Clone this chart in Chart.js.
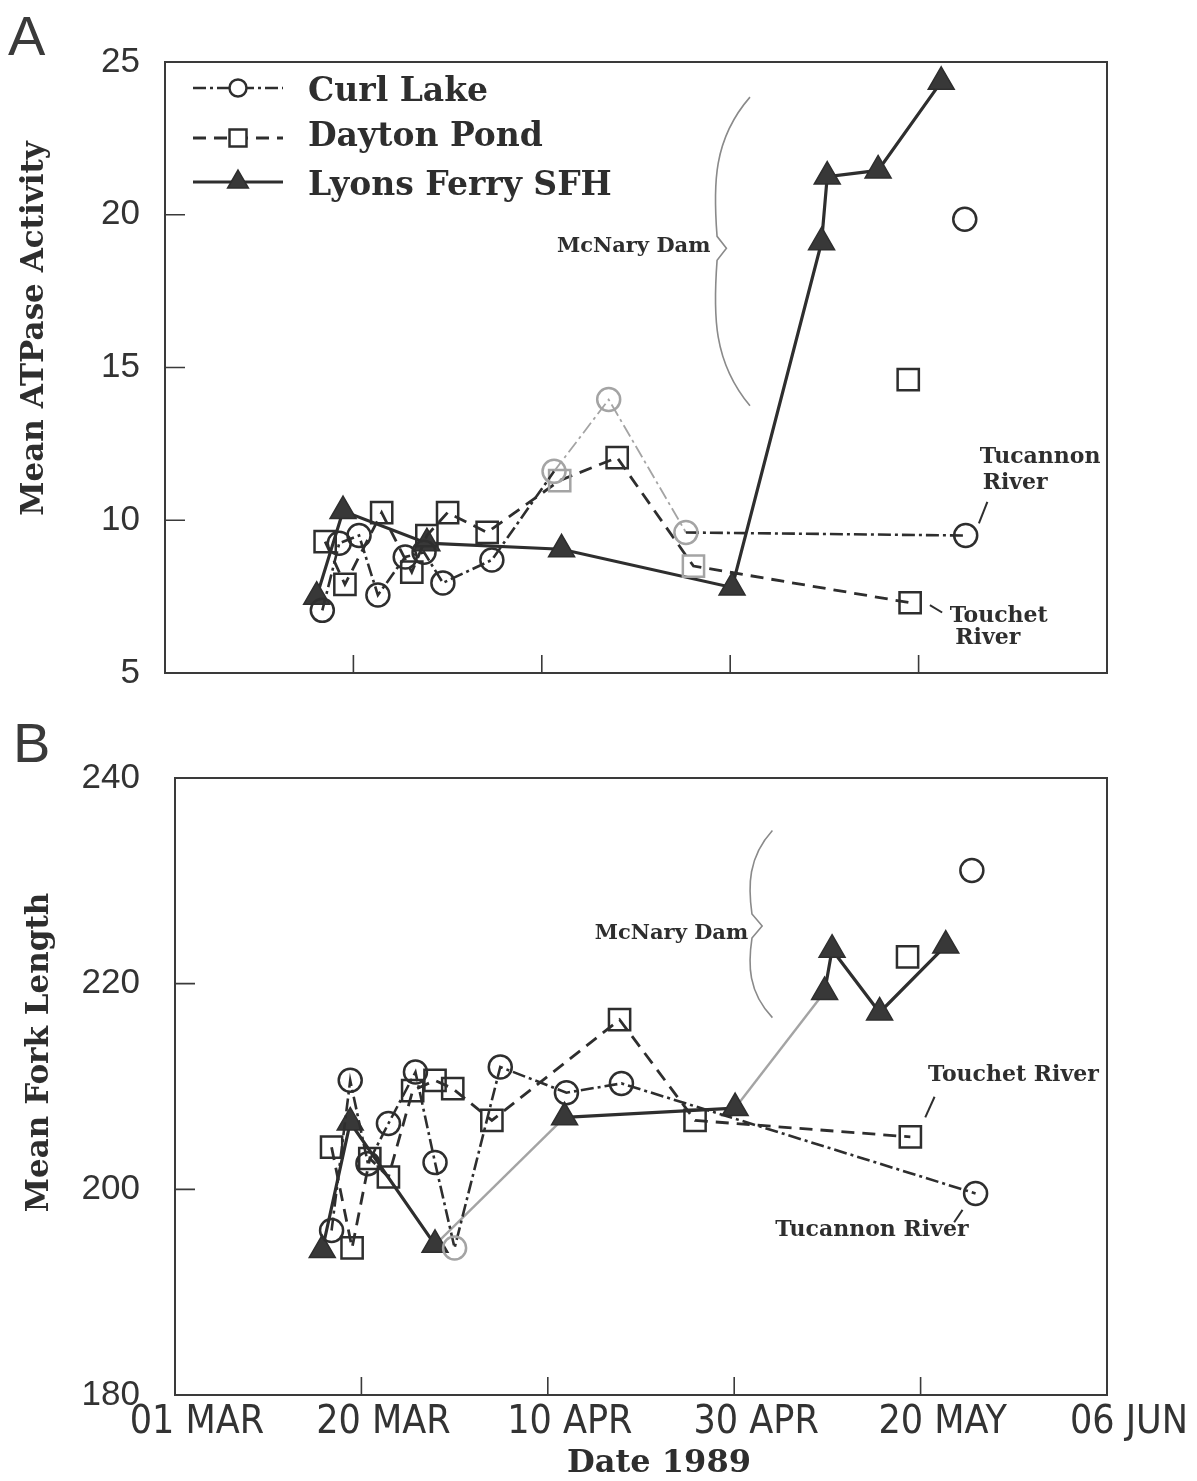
<!DOCTYPE html>
<html>
<head>
<meta charset="utf-8">
<title>ATPase activity and fork length, 1989</title>
<script src="https://cdn.jsdelivr.net/npm/chart.js@4.4.1/dist/chart.umd.min.js"></script>
<style>
  html, body { margin: 0; padding: 0; background: #fff; }
  #wrap { position: relative; width: 1197px; height: 1481px; overflow: hidden; background: #fff; }
  canvas { position: absolute; left: 0; }
  #panelA { top: 0; }
  #panelB { top: 720px; }
</style>
</head>
<body>
<div id="wrap">
  <canvas id="panelA" width="1197" height="720"></canvas>
  <canvas id="panelB" width="1197" height="761"></canvas>
</div>
<script>
// ---- x axis: day of year, 1989 ----
const dayTicks = [60, 80, 100, 120, 140, 160];
const dayTickLabels = ['01 MAR', '20 MAR', '10 APR', '30 APR', '20 MAY', '06 JUN'];
const atpaseTicks = [5, 10, 15, 20, 25];
const forkTicks = [180, 200, 220, 240];

// ---- Panel A: mean gill ATPase activity ----
const curlDaysA    = [76.7, 78.5, 80.6, 82.6, 85.5, 87.5, 89.5, 94.7, 101.3, 107.1, 115.3, 145.0];
const curlAtpaseA  = [7.05, 9.25, 9.5, 7.55, 8.8, 8.95, 7.95, 8.7, 11.6, 13.95, 9.6, 9.5];
const daytonDaysA   = [77.0, 79.1, 83.0, 86.2, 87.8, 90.0, 94.2, 101.9, 108.0, 116.1, 139.1];
const daytonAtpaseA = [9.3, 7.9, 10.25, 8.3, 9.5, 10.25, 9.6, 11.3, 12.05, 8.5, 7.3];
const lyonsDaysA   = [76.1, 78.9, 87.8, 102.1, 120.2, 129.7, 130.3, 135.7, 142.4];
const lyonsAtpaseA = [7.5, 10.3, 9.25, 9.05, 7.8, 19.1, 21.25, 21.45, 24.35];
// fish sampled at McNary Dam (plotted without connecting lines)
const curlDamDayA = [144.9],   curlDamAtpaseA = [19.85];
const daytonDamDayA = [138.9], daytonDamAtpaseA = [14.6];

// ---- Panel B: mean fork length ----
const curlDaysB   = [76.8, 78.8, 80.7, 82.9, 85.8, 87.9, 90.0, 94.9, 102.0, 107.9, 145.9];
const curlForkB   = [196.0, 210.6, 202.5, 206.4, 211.4, 202.6, 194.3, 211.9, 209.4, 210.3, 199.6];
const daytonDaysB = [76.8, 79.0, 80.9, 82.9, 85.5, 87.9, 89.8, 94.0, 107.7, 115.8, 138.9];
const daytonForkB = [204.1, 194.3, 203.0, 201.2, 209.6, 210.6, 209.8, 206.7, 216.5, 206.7, 205.1];
const lyonsDaysB  = [75.8, 78.8, 87.9, 101.8, 120.1, 129.7, 130.5, 135.6, 142.7];
const lyonsForkB  = [194.1, 206.5, 194.6, 207.0, 207.9, 219.2, 223.3, 217.2, 223.7];
const curlDamDayB = [145.5],   curlDamForkB = [231.0];
const daytonDamDayB = [138.6], daytonDamForkB = [222.6];

const seriesNames = ['Curl Lake', 'Dayton Pond', 'Lyons Ferry SFH'];

// ---- styling ----
const INK = '#2e2e2e';
const FADED = '#a4a4a4';
const SERIF = '"DejaVu Serif", "Liberation Serif", serif';
const SANS = '"Liberation Sans", Arial, sans-serif';
const NARROW = '"Liberation Sans Narrow", "DejaVu Sans Condensed", "Liberation Sans", sans-serif';

const STYLE = {
  curl:   { pointStyle: 'circle',   radius: 11.5, dash: [13, 4, 3, 4], lineWidth: 2.6, fill: 'rgba(0,0,0,0)', pointBorder: 2.5 },
  dayton: { pointStyle: 'rect',     radius: 15,   dash: [13, 8],       lineWidth: 2.8, fill: 'rgba(0,0,0,0)', pointBorder: 2.5 },
  lyons:  { pointStyle: 'triangle', radius: 15,   dash: [],            lineWidth: 3.2, fill: '#383838',       pointBorder: 1.5 }
};

function pairs(xs, ys) { return xs.map((x, i) => ({ x: x, y: ys[i] })); }

function makeSeries(label, xs, ys, st, connect, fadedSegs, fadedPts) {
  fadedSegs = fadedSegs || [];
  fadedPts = fadedPts || [];
  return {
    label: label,
    data: pairs(xs, ys),
    showLine: connect,
    borderColor: INK,
    borderWidth: st.lineWidth,
    borderDash: st.dash,
    tension: 0,
    pointStyle: st.pointStyle,
    pointRadius: st.radius,
    pointHoverRadius: st.radius,
    pointBorderWidth: st.pointBorder,
    pointBackgroundColor: xs.map((_, i) => (st.pointStyle === 'triangle' && fadedPts.includes(i)) ? '#7a7a7a' : st.fill),
    pointBorderColor: xs.map((_, i) => fadedPts.includes(i) ? FADED : INK),
    segment: {
      borderColor: c => fadedSegs.includes(c.p0DataIndex) ? FADED : INK,
      borderWidth: c => fadedSegs.includes(c.p0DataIndex) ? Math.max(1.8, st.lineWidth - 0.8) : st.lineWidth
    }
  };
}

// ---- plugins ----
function framePlugin(yTickValues, xTickValues) {
  return {
    id: 'frame',
    beforeDatasetsDraw(chart) {
      const { ctx, chartArea: a, scales } = chart;
      ctx.save();
      ctx.strokeStyle = '#3a3a3a';
      ctx.lineWidth = 2;
      ctx.setLineDash([]);
      ctx.strokeRect(a.left, a.top, a.right - a.left, a.bottom - a.top);
      ctx.lineWidth = 1.6;
      ctx.beginPath();
      yTickValues.forEach(v => {
        const y = scales.y.getPixelForValue(v);
        if (y > a.top + 2 && y < a.bottom - 2) { ctx.moveTo(a.left, y); ctx.lineTo(a.left + 20, y); }
      });
      xTickValues.forEach(v => {
        const x = scales.x.getPixelForValue(v);
        if (x > a.left + 2 && x < a.right - 2) { ctx.moveTo(x, a.bottom); ctx.lineTo(x, a.bottom - 18); }
      });
      ctx.stroke();
      ctx.restore();
    }
  };
}

function drawBrace(ctx, xe, xb, xc, yTop, yTip, yBot) {
  const up = yTip - yTop, dn = yBot - yTip;
  ctx.beginPath();
  ctx.moveTo(xe, yTop);
  ctx.bezierCurveTo(xb - 3, yTop + 0.28 * up, xb - 3, yTip - 0.42 * up, xb + 1, yTip - 12);
  ctx.quadraticCurveTo(xb + (xc - xb) * 0.7, yTip - 4, xc, yTip);
  ctx.quadraticCurveTo(xb + (xc - xb) * 0.7, yTip + 4, xb + 1, yTip + 12);
  ctx.bezierCurveTo(xb - 3, yTip + 0.42 * dn, xb - 3, yBot - 0.28 * dn, xe, yBot);
  ctx.stroke();
}

// notes are anchored in data units so they follow the scales
function notesPlugin(notes) {
  return {
    id: 'notes',
    afterDatasetsDraw(chart) {
      const { ctx, scales } = chart;
      const X = d => scales.x.getPixelForValue(d);
      const Y = v => scales.y.getPixelForValue(v);
      ctx.save();
      notes.forEach(n => {
        if (n.kind === 'text') {
          ctx.font = 'bold ' + (n.size || 22) + 'px ' + SERIF;
          ctx.fillStyle = INK;
          ctx.textAlign = n.align || 'left';
          ctx.textBaseline = 'middle';
          ctx.fillText(n.text, X(n.day), Y(n.val));
        } else if (n.kind === 'leader') {
          ctx.strokeStyle = INK;
          ctx.lineWidth = 2;
          ctx.setLineDash([]);
          ctx.beginPath();
          ctx.moveTo(X(n.from[0]), Y(n.from[1]));
          ctx.lineTo(X(n.to[0]), Y(n.to[1]));
          ctx.stroke();
        } else if (n.kind === 'brace') {
          ctx.strokeStyle = '#8a8a8a';
          ctx.lineWidth = 1.6;
          ctx.setLineDash([]);
          drawBrace(ctx, X(n.endDay), X(n.bodyDay), X(n.tipDay), Y(n.top), Y(n.tip), Y(n.bottom));
        }
      });
      ctx.restore();
    }
  };
}

// panel letter and axis titles
function titlesPlugin(cfg) {
  return {
    id: 'titles',
    afterDraw(chart) {
      const { ctx, chartArea: a } = chart;
      ctx.save();
      ctx.fillStyle = '#3a3a3a';
      ctx.font = '56px ' + SANS;
      ctx.textAlign = 'left';
      ctx.textBaseline = 'alphabetic';
      ctx.fillText(cfg.letter, cfg.letterX, cfg.letterY);

      ctx.fillStyle = INK;
      ctx.font = 'bold 31px ' + SERIF;
      ctx.textAlign = 'center';
      ctx.textBaseline = 'middle';
      ctx.save();
      ctx.translate(a.left - cfg.yTitleGap, (a.top + a.bottom) / 2 + cfg.yTitleShift);
      ctx.rotate(-Math.PI / 2);
      ctx.fillText(cfg.yTitle, 0, 0);
      ctx.restore();

      if (cfg.xTitle) {
        ctx.font = 'bold 32px ' + SERIF;
        ctx.fillText(cfg.xTitle, (a.left + a.right) / 2 + 18, a.bottom + 69);
      }
      ctx.restore();
    }
  };
}

// legend drawn inside panel A with a short line sample through each marker
function legendPlugin(rows) {
  return {
    id: 'innerLegend',
    afterDatasetsDraw(chart) {
      const ctx = chart.ctx;
      ctx.save();
      rows.forEach((r, i) => {
        const ds = chart.data.datasets[i];
        ctx.strokeStyle = INK;
        ctx.lineWidth = ds.borderWidth;
        ctx.setLineDash(ds.borderDash || []);
        ctx.beginPath();
        ctx.moveTo(193, r.lineY);
        ctx.lineTo(283, r.lineY);
        ctx.stroke();
        ctx.setLineDash([]);
        ctx.fillStyle = ds.pointStyle === 'triangle' ? '#383838' : '#fff';
        ctx.strokeStyle = INK;
        ctx.lineWidth = ds.pointBorderWidth;
        Chart.helpers.drawPoint(ctx, {
          pointStyle: ds.pointStyle,
          radius: r.markerRadius,
          rotation: 0,
          borderWidth: ds.pointBorderWidth
        }, 238, r.lineY);
        ctx.fillStyle = INK;
        ctx.font = 'bold 33px ' + SERIF;
        ctx.textAlign = 'left';
        ctx.textBaseline = 'middle';
        ctx.fillText(seriesNames[i], 308, r.textY);
      });
      ctx.restore();
    }
  };
}

function baseOptions(yMin, yMax, yStep, yWidth, yPad, topPad, xHeight, showXLabels) {
  return {
    responsive: false,
    animation: false,
    events: [],
    layout: { padding: { left: 0, right: 90, top: topPad, bottom: 0 } },
    plugins: { legend: { display: false }, tooltip: { enabled: false } },
    scales: {
      x: {
        type: 'linear',
        min: dayTicks[0],
        max: dayTicks[dayTicks.length - 1],
        grid: { display: false, drawTicks: false },
        border: { display: false },
        afterBuildTicks: s => { s.ticks = dayTicks.map(v => ({ value: v })); },
        afterFit: s => { s.height = xHeight; },
        ticks: {
          display: showXLabels,
          autoSkip: false,
          maxRotation: 0,
          padding: 4,
          labelOffset: 22,
          color: '#333',
          font: { family: NARROW, size: 39 },
          callback: v => { const i = dayTicks.indexOf(v); return i >= 0 ? dayTickLabels[i] : ''; }
        }
      },
      y: {
        type: 'linear',
        min: yMin,
        max: yMax,
        grid: { display: false, drawTicks: false },
        border: { display: false },
        afterFit: s => { s.width = yWidth; },
        ticks: {
          stepSize: yStep,
          padding: yPad,
          color: '#333',
          font: { family: SANS, size: 35 }
        }
      }
    }
  };
}

// ---------- Panel A ----------
const chartA = new Chart(document.getElementById('panelA'), {
  type: 'scatter',
  data: {
    datasets: [
      makeSeries(seriesNames[0], curlDaysA, curlAtpaseA, STYLE.curl, true, [8, 9], [8, 9, 10]),
      makeSeries(seriesNames[1], daytonDaysA, daytonAtpaseA, STYLE.dayton, true, [], [7, 9]),
      makeSeries(seriesNames[2], lyonsDaysA, lyonsAtpaseA, STYLE.lyons, true, [], []),
      makeSeries(seriesNames[0] + ' (McNary Dam)', curlDamDayA, curlDamAtpaseA, STYLE.curl, false),
      makeSeries(seriesNames[1] + ' (McNary Dam)', daytonDamDayA, daytonDamAtpaseA, STYLE.dayton, false)
    ]
  },
  options: baseOptions(atpaseTicks[0], atpaseTicks[atpaseTicks.length - 1], 5, 165, 25, 62, 47, false),
  plugins: [
    framePlugin(atpaseTicks, dayTicks),
    legendPlugin([
      { lineY: 88,  textY: 92,  markerRadius: 8.5 },
      { lineY: 138, textY: 137, markerRadius: 12 },
      { lineY: 182, textY: 186, markerRadius: 12 }
    ]),
    notesPlugin([
      { kind: 'text', text: 'McNary Dam', day: 117.9, val: 18.95, align: 'right', size: 21 },
      { kind: 'brace', endDay: 122.1, bodyDay: 118.5, tipDay: 119.6, top: 23.85, tip: 18.9, bottom: 13.75 },
      { kind: 'text', text: 'Tucannon', day: 146.5, val: 12.05 },
      { kind: 'text', text: 'River', day: 146.8, val: 11.2 },
      { kind: 'leader', from: [147.3, 10.6], to: [146.4, 9.9] },
      { kind: 'text', text: 'Touchet', day: 143.3, val: 6.85 },
      { kind: 'text', text: 'River', day: 143.9, val: 6.15 },
      { kind: 'leader', from: [141.2, 7.22], to: [142.5, 6.98] }
    ]),
    titlesPlugin({ letter: 'A', letterX: 8, letterY: 55, yTitle: 'Mean ATPase Activity', yTitleGap: 130, yTitleShift: -39 })
  ]
});

// ---------- Panel B ----------
const chartB = new Chart(document.getElementById('panelB'), {
  type: 'scatter',
  data: {
    datasets: [
      makeSeries(seriesNames[0], curlDaysB, curlForkB, STYLE.curl, true, [], [6]),
      makeSeries(seriesNames[1], daytonDaysB, daytonForkB, STYLE.dayton, true, [], []),
      makeSeries(seriesNames[2], lyonsDaysB, lyonsForkB, STYLE.lyons, true, [2, 4], []),
      makeSeries(seriesNames[0] + ' (McNary Dam)', curlDamDayB, curlDamForkB, STYLE.curl, false),
      makeSeries(seriesNames[1] + ' (McNary Dam)', daytonDamDayB, daytonDamForkB, STYLE.dayton, false)
    ]
  },
  options: baseOptions(forkTicks[0], forkTicks[forkTicks.length - 1], 20, 175, 35, 58, 86, true),
  plugins: [
    framePlugin(forkTicks, dayTicks),
    notesPlugin([
      { kind: 'text', text: 'McNary Dam', day: 121.5, val: 224.9, align: 'right', size: 21 },
      { kind: 'brace', endDay: 124.1, bodyDay: 121.8, tipDay: 123.0, top: 234.9, tip: 225.6, bottom: 216.7 },
      { kind: 'text', text: 'Touchet River', day: 140.8, val: 211.1 },
      { kind: 'leader', from: [141.5, 209.0], to: [140.5, 207.0] },
      { kind: 'text', text: 'Tucannon River', day: 124.4, val: 196.0 },
      { kind: 'leader', from: [144.5, 198.0], to: [143.6, 196.8] }
    ]),
    titlesPlugin({ letter: 'B', letterX: 13, letterY: 42, yTitle: 'Mean Fork Length', yTitleGap: 135, yTitleShift: -34, xTitle: 'Date 1989' })
  ]
});
</script>
</body>
</html>
